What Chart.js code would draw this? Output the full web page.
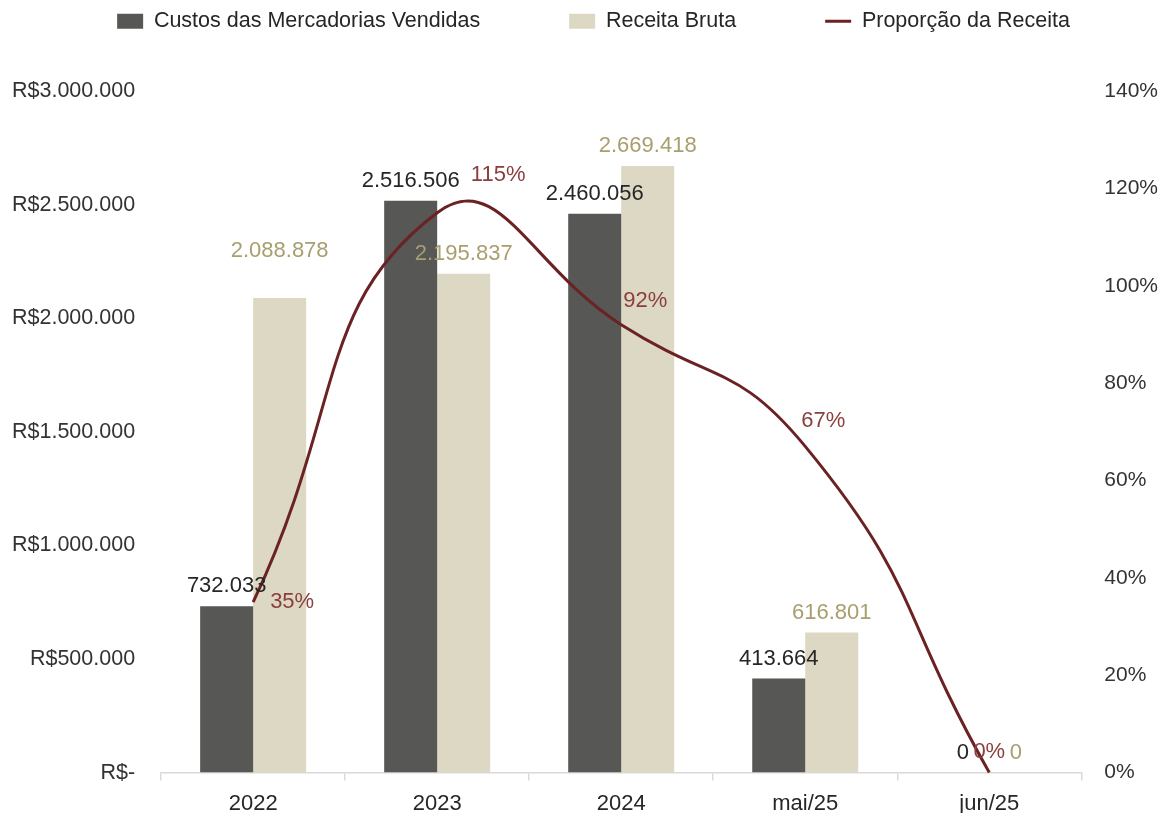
<!DOCTYPE html>
<html>
<head>
<meta charset="utf-8">
<script src="https://cdn.jsdelivr.net/npm/chart.js@4"></script>
<style>
  html, body { margin: 0; padding: 0; background: #ffffff; }
  #wrap { width: 1162px; height: 813px; }
</style>
</head>
<body>
<div id="wrap"><canvas id="c" width="1162" height="813"></canvas></div>
<script>
const categories = ['2022', '2023', '2024', 'mai/25', 'jun/25'];
const custos = [732033, 2516506, 2460056, 413664, 0];
const receita = [2088878, 2195837, 2669418, 616801, 0];
const proporcao = [0.35, 1.15, 0.92, 0.67, 0];
const leftTicks = [0, 500000, 1000000, 1500000, 2000000, 2500000, 3000000];
const rightTicks = [0, 0.2, 0.4, 0.6, 0.8, 1.0, 1.2, 1.4];

const FONT = 'Liberation Sans, Arial, sans-serif';
const DARK = '#575756';
const BEIGE = '#DDD8C3';
const LINE = '#6B2222';
const LEGEND_PAD = 89;

function fmtNum(v) {
  return Math.round(v).toString().replace(/\B(?=(\d{3})+(?!\d))/g, '.');
}
function fmtCur(v) {
  return v === 0 ? 'R$-' : 'R$' + fmtNum(v);
}

const labelPlugin = {
  id: 'valueLabels',
  afterInit(chart) {
    const lg = chart.legend;
    if (lg) {
      const fit = lg.fit;
      lg.fit = function () { this.maxWidth = 3000; fit.call(this); this.height = 91; };
    }
  },
  afterLayout(chart) {
    const lg = chart.legend;
    if (lg) {
      lg.top = 10.5 - LEGEND_PAD;
      lg.left = -200;
      lg.right = 1387;
      lg.width = lg.right - lg.left;
    }
  },
  afterDatasetsDraw(chart, args, opts) {
    const ctx = chart.ctx;
    ctx.save();
    ctx.font = '22px ' + FONT;
    ctx.textAlign = 'center';
    ctx.textBaseline = 'middle';
    chart.data.datasets.forEach((ds, di) => {
      const meta = chart.getDatasetMeta(di);
      const cfg = opts.sets[di];
      meta.data.forEach((el, i) => {
        const v = ds.data[i];
        const off = (cfg.offsets && cfg.offsets[i]) || cfg.offset;
        ctx.fillStyle = cfg.color;
        ctx.fillText(cfg.fmt(v), el.x + off[0], el.y + off[1]);
      });
    });
    ctx.restore();
  }
};

new Chart(document.getElementById('c'), {
  data: {
    labels: categories,
    datasets: [
      {
        type: 'line',
        label: 'Proporção da Receita',
        data: proporcao,
        yAxisID: 'y1',
        borderColor: LINE,
        backgroundColor: LINE,
        borderWidth: 3,
        pointRadius: 0,
        tension: 0.5,
        order: 0,
        clip: false
      },
      {
        type: 'bar',
        label: 'Custos das Mercadorias Vendidas',
        data: custos,
        yAxisID: 'y',
        backgroundColor: DARK,
        borderWidth: 0,
        categoryPercentage: 0.576,
        barPercentage: 1,
        order: 1
      },
      {
        type: 'bar',
        label: 'Receita Bruta',
        data: receita,
        yAxisID: 'y',
        backgroundColor: BEIGE,
        borderWidth: 0,
        categoryPercentage: 0.576,
        barPercentage: 1,
        order: 2
      }
    ]
  },
  options: {
    responsive: false,
    animation: false,
    events: [],
    layout: { padding: { left: 12, right: 4, top: 0, bottom: -14 } },
    plugins: {
      tooltip: { enabled: false },
      legend: {
        position: 'top',
        labels: {
          font: { family: FONT, size: 21.5 },
          color: '#262626',
          usePointStyle: true,
          pointStyleWidth: 26,
          boxHeight: 15,
          padding: LEGEND_PAD,
          generateLabels(chart) {
            const order = [1, 2, 0];
            return order.map(di => {
              const ds = chart.data.datasets[di];
              const isLine = ds.type === 'line';
              return {
                text: ds.label,
                datasetIndex: di,
                fillStyle: isLine ? LINE : ds.backgroundColor,
                strokeStyle: isLine ? LINE : ds.backgroundColor,
                lineWidth: isLine ? 3 : 0,
                pointStyle: isLine ? 'line' : 'rect',
                fontColor: '#262626',
                hidden: false
              };
            });
          }
        }
      },
      valueLabels: {
        sets: [
          { color: '#8B3E3E', fmt: v => Math.round(v * 100) + '%', offset: [0, -21],
            offsets: [[39, 0], [61, -38], [24, -24], [18, -25], [0, -21]] },
          { color: '#262626', fmt: fmtNum, offset: [0, -20] },
          { color: '#A89E6E', fmt: fmtNum, offset: [0, -20], offsets: [[0, -47]] }
        ]
      }
    },
    scales: {
      x: {
        offset: true,
        grid: {
          display: true,
          offset: true,
          drawOnChartArea: false,
          drawTicks: true,
          tickLength: 8,
          color: '#D9D9D9',
          lineWidth: 1.5
        },
        border: { display: true, color: '#D9D9D9', width: 1.5 },
        ticks: {
          font: { family: FONT, size: 22 },
          color: '#262626',
          padding: 10
        }
      },
      y: {
        position: 'left',
        min: 0,
        max: 3000000,
        afterBuildTicks(axis) { axis.ticks = leftTicks.map(v => ({ value: v })); },
        grid: { display: false, drawTicks: true, tickLength: 26 },
        border: { display: false },
        ticks: {
          font: { family: FONT, size: 21.5 },
          color: '#333333',
          padding: 0,
          callback: v => fmtCur(v)
        }
      },
      y1: {
        position: 'right',
        min: 0,
        max: 1.4,
        afterBuildTicks(axis) { axis.ticks = rightTicks.map(v => ({ value: v })); },
        grid: { display: false, drawTicks: true, tickLength: 23 },
        border: { display: false },
        ticks: {
          font: { family: FONT, size: 21 },
          color: '#333333',
          padding: 0,
          callback: v => Math.round(v * 100) + '%'
        }
      }
    }
  },
  plugins: [labelPlugin]
});
</script>
</body>
</html>
